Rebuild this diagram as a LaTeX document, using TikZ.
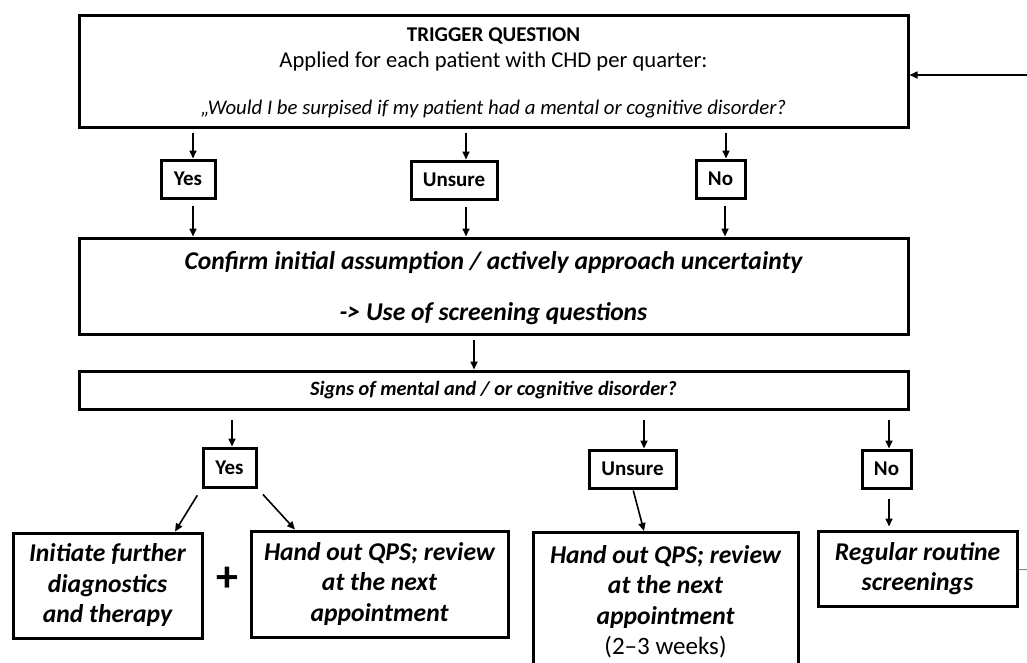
\documentclass[tikz,border=0pt]{standalone}
\usepackage{fontspec}
\setmainfont{Carlito}
\usetikzlibrary{arrows.meta,calc}
\tikzset{
  box/.style={draw=black,line width=3pt,fill=white,inner sep=0pt,align=center},
  arr/.style={draw=black,line width=1.6pt,-{Triangle[length=8pt,width=7pt]}},
  ans/.style={box,font=\fontsize{21}{24}\selectfont\bfseries},
  res/.style={box,font=\fontsize{25.6}{30.5}\selectfont\bfseries\itshape},
  rline/.style={font=\fontsize{25.6}{30.5}\selectfont\bfseries\itshape,anchor=base,inner sep=0pt},
}
\begin{document}
\begin{tikzpicture}[x=1pt,y=-1pt]
\clip (0,0) rectangle (1027,662);
\fill[white] (0,0) rectangle (1027,662);
% top box
\node[box,minimum width=829pt,minimum height=112pt] (top) at (493.5,71) {};
\node[font=\fontsize{21}{24}\selectfont\bfseries,anchor=base] (t1) at (493.5,41) {TRIGGER QUESTION};
\node[font=\fontsize{22.6}{26}\selectfont,anchor=base] (t2) at (493.5,67) {Applied for each patient with CHD per quarter:};
\node[font=\fontsize{20.8}{24}\selectfont\itshape,anchor=base] (t3) at (493.5,114) {„Would I be surpised if my patient had a mental or cognitive disorder?};
% first answers
\node[ans,minimum width=54pt,minimum height=38pt] (y1) at (188,179) {Yes};
\node[ans,minimum width=86pt,minimum height=38pt] (u1) at (454,180) {Unsure};
\node[ans,minimum width=49pt,minimum height=38pt] (n1) at (720.5,179) {No};
% confirm box
\node[box,minimum width=829pt,minimum height=96pt] (conf) at (493.5,286) {};
\node[font=\fontsize{25.6}{30}\selectfont\bfseries\itshape,anchor=base] (c1) at (493.5,269) {Confirm initial assumption / actively approach uncertainty};
\node[font=\fontsize{25.6}{30}\selectfont\bfseries\itshape,anchor=base] (c2) at (493.5,320) {-> Use of screening questions};
% signs box
\node[box,minimum width=829pt,minimum height=38pt,font=\fontsize{20.3}{24}\selectfont\bfseries\itshape] (signs) at (493.5,390) {Signs of mental and / or cognitive disorder?};
% second answers
\node[ans,minimum width=53pt,minimum height=39pt] (y2) at (229.5,467.5) {Yes};
\node[ans,minimum width=87pt,minimum height=38pt] (u2) at (632.5,469) {Unsure};
\node[ans,minimum width=49pt,minimum height=38pt] (n2) at (886.5,469) {No};
% results
\node[res,minimum width=189pt,minimum height=105pt] (b1) at (107.5,585.5) {Initiate further\\diagnostics\\and therapy};
\node[font=\fontsize{44}{44}\selectfont\bfseries] (plus) at (227,579) {+};
\node[res,minimum width=257pt,minimum height=106pt] (b2) at (379.5,584) {Hand out QPS; review\\at the next\\appointment};
\node[box,minimum width=265pt,minimum height=170pt,anchor=north] (b3) at (665.5,531) {};
\node[rline] (b3a) at (665.5,563) {Hand out QPS; review};
\node[rline] (b3b) at (665.5,593.5) {at the next};
\node[rline] (b3c) at (665.5,624) {appointment};
\node[font=\fontsize{25}{30}\selectfont,anchor=base,inner sep=0pt] (b3w) at (665.5,654.5) {(2–3 weeks)};
\node[res,minimum width=199pt,minimum height=75pt] (b4) at (917.5,568.5) {Regular routine\\screenings};
% feedback arrow and line
\coordinate (fb) at (1030,75);
\draw[arr] (fb) -- (top.east |- fb);
\coordinate (rt) at (1030,569);
\draw[gray,line width=1pt] (b4.east |- rt) -- (rt);
% arrows top -> answers
\draw[arr,shorten <=4pt] ([xshift=5pt]y1 |- top.south) -- ([xshift=5pt]y1.north);
\draw[arr,shorten <=4pt] ([xshift=12pt]u1 |- top.south) -- ([xshift=12pt]u1.north);
\draw[arr,shorten <=4pt] ([xshift=5.5pt]n1 |- top.south) -- ([xshift=5.5pt]n1.north);
% answers -> confirm
\draw[arr,shorten <=6pt] ([xshift=5pt]y1.south) -- ([xshift=5pt]y1.south |- conf.north);
\draw[arr,shorten <=6pt] ([xshift=12pt]u1.south) -- ([xshift=12pt]u1.south |- conf.north);
\draw[arr,shorten <=6pt] ([xshift=4.5pt]n1.south) -- ([xshift=4.5pt]n1.south |- conf.north);
% confirm -> signs
\draw[arr,shorten <=4pt] ([xshift=-19.5pt]conf.south) -- ([xshift=-19.5pt]signs.north);
% signs -> answers
\draw[arr,shorten <=9pt] ([xshift=2.5pt]y2 |- signs.south) -- ([xshift=2.5pt]y2.north);
\draw[arr,shorten <=9pt] ([xshift=11.5pt]u2 |- signs.south) -- ([xshift=11.5pt]u2.north);
\draw[arr,shorten <=9pt] ([xshift=2.5pt]n2 |- signs.south) -- ([xshift=2.5pt]n2.north);
% answers -> results
\draw[arr,shorten <=8pt] (y2.south west) -- ([xshift=67.5pt]b1.north);
\draw[arr,shorten <=8pt] (y2.south east) -- ([xshift=-84.5pt]b2.north);
\draw[arr,shorten <=1pt] ([xshift=0.5pt]u2.south) -- ([xshift=-21.5pt]b3.north);
\draw[arr,shorten <=9pt,shorten >=3pt] ([xshift=2.5pt]n2.south) -- ([xshift=-28.5pt]b4.north);
\end{tikzpicture}
\end{document}
